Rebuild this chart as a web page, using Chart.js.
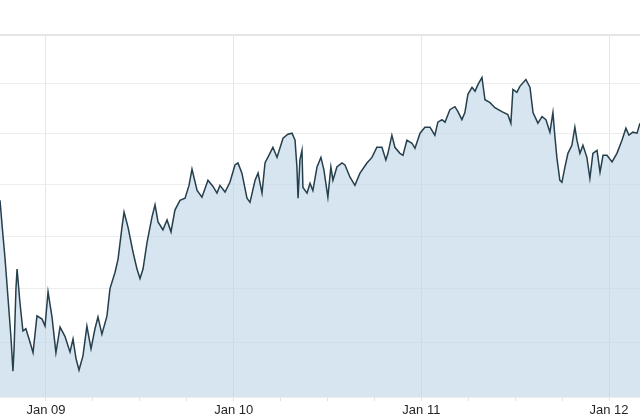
<!DOCTYPE html>
<html>
<head>
<meta charset="utf-8">
<script src="https://cdn.jsdelivr.net/npm/chart.js@4"></script>
<style>
  html, body { margin: 0; padding: 0; background: #ffffff; }
  #wrap { width: 640px; height: 420px; }
</style>
</head>
<body>
<div id="wrap"><canvas id="c" width="640" height="420"></canvas></div>
<script>
// Dates as decimal years
const dates = [
  2008.755, 2008.766, 2008.782, 2008.798, 2008.814, 2008.824, 2008.830, 2008.840, 2008.846, 2008.861,
  2008.877, 2008.893, 2008.915, 2008.931, 2008.952, 2008.979, 2008.995, 2009.011, 2009.032, 2009.053,
  2009.075, 2009.101, 2009.128, 2009.144, 2009.160, 2009.176, 2009.197, 2009.218, 2009.240, 2009.261,
  2009.277, 2009.298, 2009.325, 2009.341, 2009.368, 2009.384, 2009.405, 2009.416, 2009.437, 2009.464,
  2009.485, 2009.501, 2009.517, 2009.538, 2009.565, 2009.581, 2009.597, 2009.623, 2009.645, 2009.666,
  2009.687, 2009.714, 2009.741, 2009.762, 2009.778, 2009.805, 2009.831, 2009.863, 2009.890, 2009.911,
  2009.927, 2009.954, 2009.980, 2010.007, 2010.023, 2010.044, 2010.071, 2010.087, 2010.114, 2010.130,
  2010.151, 2010.167, 2010.193, 2010.209, 2010.231, 2010.263, 2010.289, 2010.311, 2010.327, 2010.337,
  2010.343, 2010.353, 2010.364, 2010.369, 2010.391, 2010.407, 2010.422, 2010.444, 2010.465, 2010.481,
  2010.502, 2010.518, 2010.529, 2010.550, 2010.577, 2010.593, 2010.620, 2010.646, 2010.673, 2010.710,
  2010.737, 2010.763, 2010.790, 2010.811, 2010.822, 2010.843, 2010.859, 2010.886, 2010.902, 2010.923,
  2010.950, 2010.966, 2010.993, 2011.019, 2011.046, 2011.072, 2011.088, 2011.110, 2011.126, 2011.152,
  2011.179, 2011.195, 2011.216, 2011.232, 2011.248, 2011.270, 2011.286, 2011.302, 2011.323, 2011.339,
  2011.366, 2011.392, 2011.429, 2011.461, 2011.477, 2011.488, 2011.509, 2011.525, 2011.557, 2011.579,
  2011.595, 2011.621, 2011.643, 2011.664, 2011.685, 2011.701, 2011.712, 2011.722, 2011.738, 2011.749,
  2011.765, 2011.781, 2011.802, 2011.818, 2011.829, 2011.845, 2011.861, 2011.882, 2011.898, 2011.914,
  2011.936, 2011.952, 2011.968, 2011.989, 2012.016, 2012.042, 2012.069, 2012.090, 2012.106, 2012.127,
  2012.149, 2012.165
];
const values = [
  53.69, 53.21, 52.56, 51.81, 51.06, 50.47, 50.88, 52.00, 52.37, 51.75,
  51.21, 51.25, 51.00, 50.81, 51.49, 51.43, 51.30, 51.94, 51.47, 50.81,
  51.28, 51.11, 50.82, 51.06, 50.70, 50.49, 50.75, 51.30, 50.88, 51.25,
  51.47, 51.15, 51.49, 52.00, 52.31, 52.56, 53.17, 53.46, 53.17, 52.69,
  52.37, 52.19, 52.37, 52.87, 53.37, 53.60, 53.27, 53.12, 53.31, 53.08,
  53.50, 53.69, 53.73, 53.98, 54.30, 53.88, 53.75, 54.08, 53.96, 53.83,
  53.98, 53.85, 54.04, 54.38, 54.42, 54.22, 53.73, 53.65, 54.08, 54.22,
  53.83, 54.42, 54.61, 54.73, 54.53, 54.91, 54.99, 55.01, 54.87, 54.34,
  53.73, 54.48, 54.67, 53.94, 53.83, 54.02, 53.88, 54.34, 54.53, 54.28,
  53.75, 54.34, 54.08, 54.34, 54.42, 54.38, 54.14, 53.98, 54.22, 54.42,
  54.53, 54.73, 54.73, 54.48, 54.61, 54.97, 54.73, 54.61, 54.57, 54.87,
  54.81, 54.71, 55.01, 55.13, 55.13, 54.97, 55.23, 55.28, 55.23, 55.48,
  55.54, 55.44, 55.28, 55.42, 55.79, 55.93, 55.85, 55.99, 56.13, 55.68,
  55.62, 55.52, 55.44, 55.38, 55.21, 55.89, 55.83, 55.95, 56.09, 55.93,
  55.42, 55.21, 55.34, 55.28, 55.03, 55.42, 54.93, 54.53, 54.08, 54.04,
  54.34, 54.61, 54.77, 55.13, 54.87, 54.61, 54.77, 54.53, 54.12, 54.61,
  54.67, 54.24, 54.57, 54.57, 54.44, 54.61, 54.87, 55.11, 54.97, 55.03,
  55.01, 55.21
];
const yTicks = [50, 51, 52, 53, 54, 55, 56, 57];
const xTicks = [2009, 2009.25, 2009.5, 2009.75, 2010, 2010.25, 2010.5, 2010.75,
                2011, 2011.25, 2011.5, 2011.75, 2012];
const xTickLabels = { 2009: 'Jan 09', 2010: 'Jan 10', 2011: 'Jan 11', 2012: 'Jan 12' };
const xMin = 2008.755, xMax = 2012.165;
const yMin = 50, yMax = 57;

const points = dates.map((d, i) => ({ x: d, y: values[i] }));

new Chart(document.getElementById('c'), {
  type: 'line',
  data: {
    datasets: [{
      data: points,
      borderColor: '#253f4c',
      borderWidth: 1.5,
      backgroundColor: 'rgba(187,212,228,0.6)',
      fill: 'start',
      pointRadius: 0,
      tension: 0
    }]
  },
  options: {
    responsive: false,
    animation: false,
    layout: { padding: { top: 35, left: 0, right: 0, bottom: 0 } },
    plugins: { legend: { display: false }, tooltip: { enabled: false } },
    scales: {
      x: {
        type: 'linear',
        min: xMin,
        max: xMax,
        afterBuildTicks: (s) => { s.ticks = xTicks.map(v => ({ value: v })); },
        ticks: {
          autoSkip: false,
          maxRotation: 0,
          padding: 3,
          color: '#262626',
          font: { family: 'Liberation Sans, Arial, sans-serif', size: 13, lineHeight: 1 },
          callback: (v) => xTickLabels[v] || ''
        },
        grid: {
          color: (ctx) => (ctx.tick && Number.isInteger(ctx.tick.value)) ? '#e6e6e6' : 'rgba(0,0,0,0)',
          tickColor: '#e0e0e0',
          tickLength: 4,
          lineWidth: 1
        },
        border: { display: false }
      },
      y: {
        type: 'logarithmic',
        min: yMin,
        max: yMax,
        afterBuildTicks: (s) => { s.ticks = yTicks.map(v => ({ value: v })); },
        ticks: { display: false },
        grid: {
          color: (ctx) => (ctx.tick && ctx.tick.value === yMax) ? '#e6e6e6' : '#ededed',
          drawTicks: false,
          lineWidth: (ctx) => (ctx.tick && ctx.tick.value === yMax) ? 2 : 1
        },
        border: { display: false }
      }
    }
  }
});
</script>
</body>
</html>
